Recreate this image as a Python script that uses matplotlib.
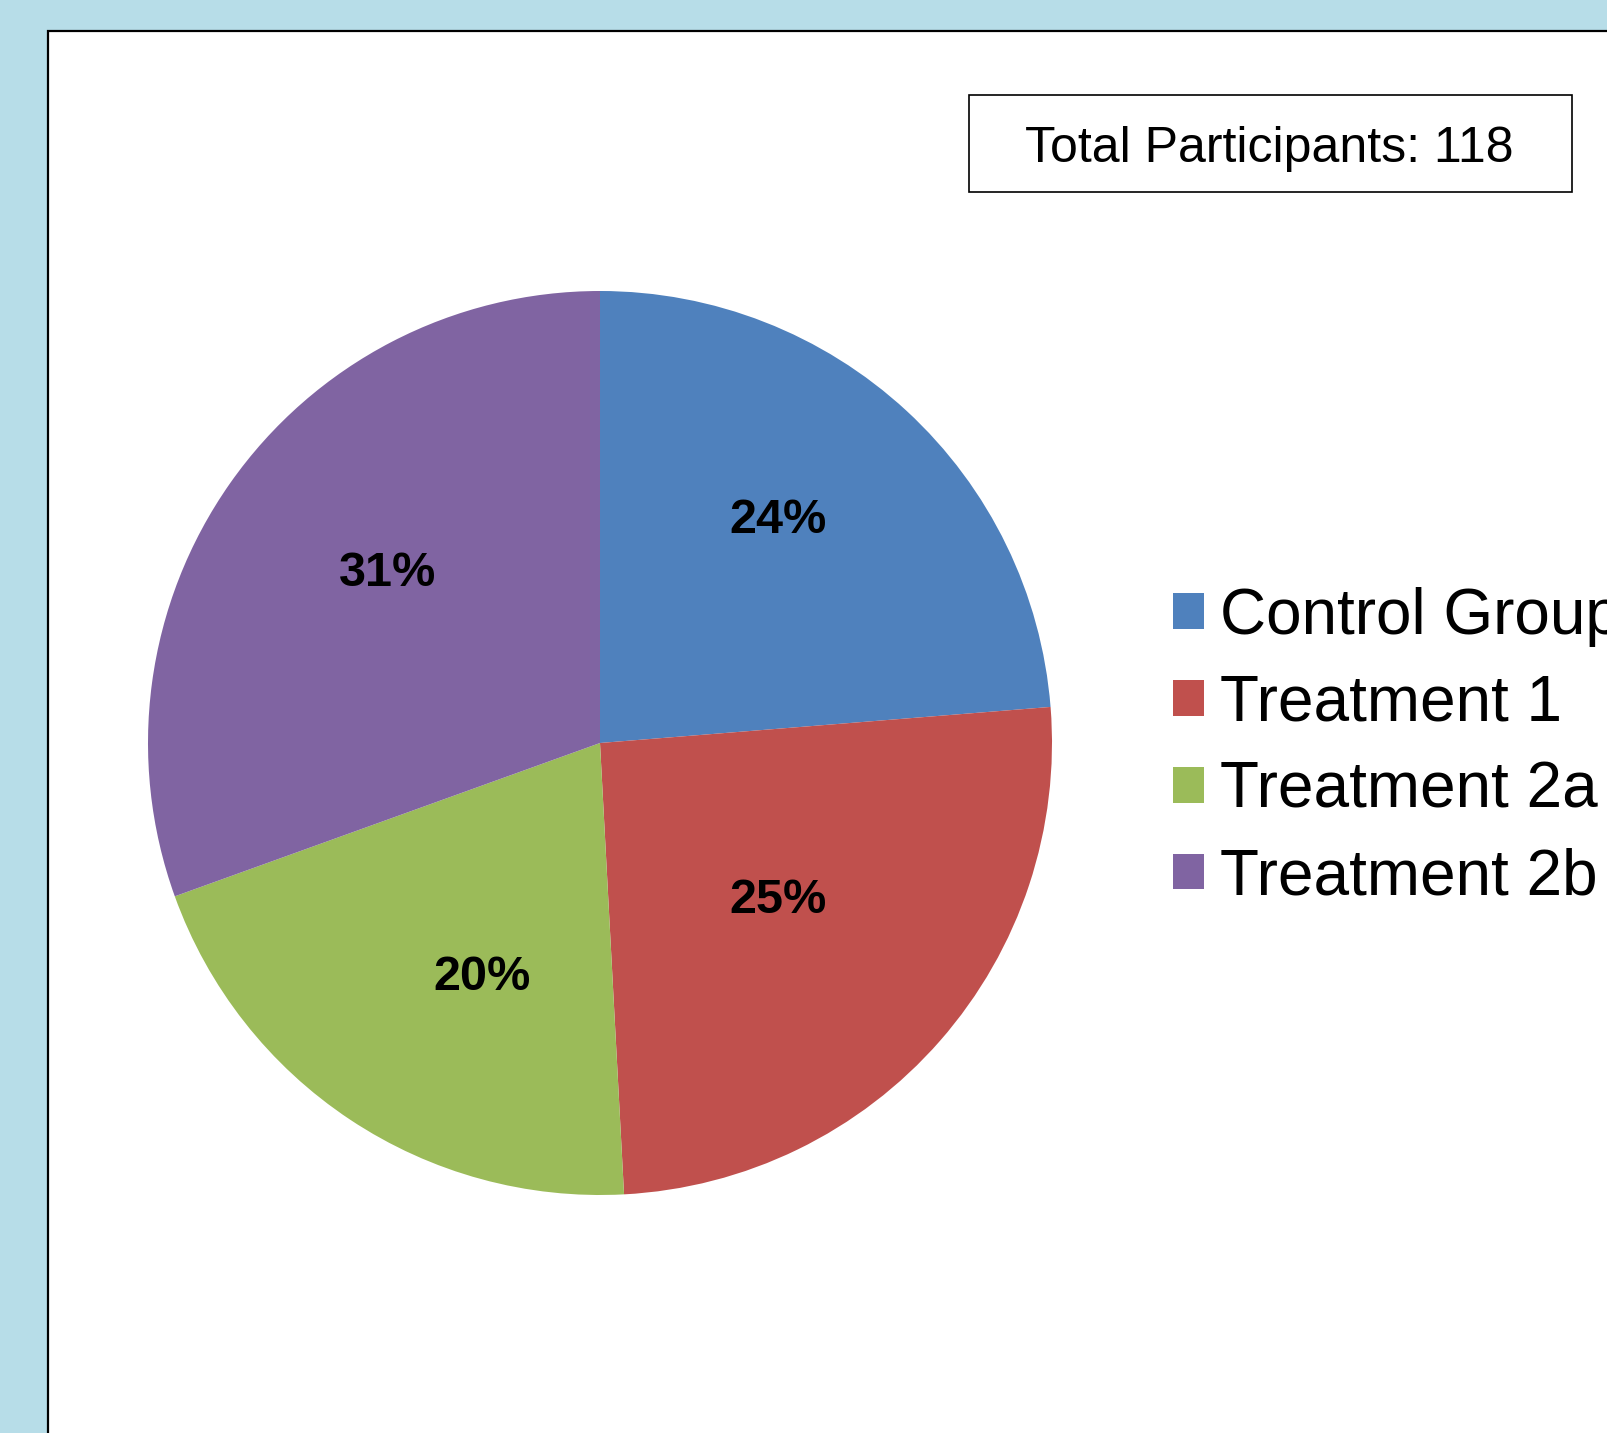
import numpy as np
import matplotlib.pyplot as plt
from matplotlib.patches import Rectangle, Patch

# group sizes
groups = ['Control Group', 'Treatment 1', 'Treatment 2a', 'Treatment 2b']
counts = [28, 30, 24, 36]
colors = ['#4F81BD', '#C0504D', '#9BBB59', '#8064A2']
total = sum(counts)

# where each percent label sits: fraction of radius, degrees off the wedge middle
label_r = [0.63, 0.525, 0.58, 0.60]
label_shift = [4.0, -0.3, 6.8, -3.5]

W, H = 1608, 1433
fig = plt.figure(figsize=(W / 100, H / 100), dpi=100)
fig.patch.set_facecolor('#B7DDE8')

# white chart area with black border, running off right/bottom edge
fig.patches.append(Rectangle((48 / W, -0.1), 1.2, (H - 31) / H + 0.1,
                             transform=fig.transFigure, facecolor='white',
                             edgecolor='black', linewidth=1.6, zorder=-5))

# pie
cx, cy, r = 600, 743, 452
ax = fig.add_axes([(cx - r) / W, (H - cy - r) / H, 2 * r / W, 2 * r / H])
ax.patch.set_alpha(0)
wedges, texts, autotexts = ax.pie(counts, colors=colors, startangle=90, counterclock=False,
                                  autopct=lambda p: '%d%%' % round(p), pctdistance=0.6,
                                  wedgeprops=dict(linewidth=0),
                                  textprops=dict(fontsize=35, fontweight='bold',
                                                 family='Liberation Sans'))
for w, t, lr, sh in zip(wedges, autotexts, label_r, label_shift):
    ang = np.deg2rad((w.theta1 + w.theta2) / 2 + sh)
    t.set_position((lr * np.cos(ang), lr * np.sin(ang)))
ax.set_xlim(-1, 1)
ax.set_ylim(-1, 1)
ax.set_aspect('equal')

# legend
handles = [Patch(facecolor=c, edgecolor='none') for c in colors]
fig.legend(handles, groups, loc='center left', bbox_to_anchor=(1173 / W, 0.4787),
           frameon=False, borderpad=0, borderaxespad=0,
           handlelength=0.48, handleheight=0.48, handletextpad=0.25, labelspacing=0.42,
           prop=dict(family='Liberation Sans', size=46))

# total box
fig.text(1269 / W, 1 - 149 / H, 'Total Participants: %d' % total,
         ha='center', va='center', fontsize=36, family='Liberation Sans')
fig.patches.append(Rectangle((969 / W, 1 - 192 / H), (1572 - 969) / W, 97 / H,
                             transform=fig.transFigure, facecolor='none',
                             edgecolor='black', linewidth=1.2))

fig.savefig('out.png', dpi=100)
